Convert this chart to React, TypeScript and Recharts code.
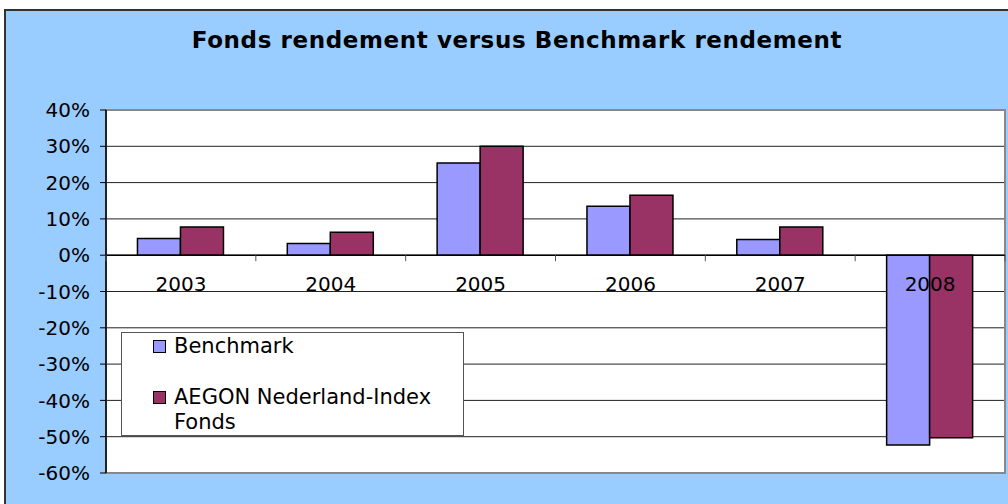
import React from "react";
import {
  BarChart,
  Bar,
  XAxis,
  YAxis,
  CartesianGrid,
  ReferenceLine,
  ReferenceArea,
  Legend,
} from "recharts";

const YEARS = ["2003", "2004", "2005", "2006", "2007", "2008"];
const BENCHMARK = [0.046, 0.032, 0.254, 0.135, 0.043, -0.523];
const FONDS = [0.078, 0.063, 0.3, 0.165, 0.078, -0.503];
const Y_TICKS = [0.4, 0.3, 0.2, 0.1, 0, -0.1, -0.2, -0.3, -0.4, -0.5, -0.6];

const SERIES = [
  { key: "Benchmark", color: "#9999FF" },
  { key: "AEGON Nederland-Index Fonds", color: "#993366" },
];

const data = YEARS.map((year, i) => ({
  year,
  Benchmark: BENCHMARK[i],
  "AEGON Nederland-Index Fonds": FONDS[i],
}));

const FONT = "'DejaVu Sans', Verdana, sans-serif";
const PLOT_LEFT = 106;
const PLOT_RIGHT = 1005;
const PLOT_TOP = 110;
const PLOT_BOTTOM = 473;
const ZERO_Y = PLOT_TOP + (PLOT_BOTTOM - PLOT_TOP) * 0.4;
const BAND = (PLOT_RIGHT - PLOT_LEFT) / YEARS.length;

// category labels sit on the zero line, not at the bottom of the plot
const YearTick = (props: any) => {
  const { x, payload, index } = props;
  const left = x - BAND / 2;
  return (
    <g>
      <line x1={left} x2={left} y1={ZERO_Y} y2={ZERO_Y + 6} stroke="#555" />
      {index === YEARS.length - 1 && (
        <line x1={left + BAND} x2={left + BAND} y1={ZERO_Y} y2={ZERO_Y + 6} stroke="#555" />
      )}
      <text x={x} y={ZERO_Y + 36} textAnchor="middle" fontFamily={FONT} fontSize={20} fill="#000">
        {payload.value}
      </text>
    </g>
  );
};

const LegendBox = () => (
  <div
    style={{
      position: "relative",
      width: 341,
      height: 102,
      background: "#fff",
      border: "1px solid #555",
      fontFamily: FONT,
      fontSize: 21,
      color: "#000",
    }}
  >
    {SERIES.map((s, i) => (
      <div
        key={s.key}
        style={{ position: "absolute", left: 31, top: i === 0 ? 1 : 52, display: "flex" }}
      >
        <div
          style={{
            width: 11,
            height: 11,
            marginTop: 6,
            marginRight: 8,
            background: s.color,
            border: "1px solid #000",
            flexShrink: 0,
          }}
        />
        <div style={{ width: 280, lineHeight: "25px" }}>{s.key}</div>
      </div>
    ))}
  </div>
);

export default function App() {
  return (
    <div style={{ position: "absolute", left: 0, top: 0, width: 1008, height: 504, overflow: "hidden", background: "#fff" }}>
      <div
        style={{
          position: "absolute",
          left: 4,
          top: 9,
          width: 1020,
          height: 510,
          background: "#99CCFF",
          borderTop: "2px solid #333",
          borderLeft: "2px solid #333",
        }}
      />
      <div
        style={{
          position: "absolute",
          left: 0,
          top: 29,
          width: 1034,
          textAlign: "center",
          fontFamily: FONT,
          fontWeight: "bold",
          fontSize: 23,
          lineHeight: 1,
          letterSpacing: 0.6,
          color: "#000",
        }}
      >
        Fonds rendement versus Benchmark rendement
      </div>
      <div style={{ position: "absolute", left: 0, top: 0 }}>
        <BarChart
          width={1008}
          height={504}
          data={data}
          margin={{ top: PLOT_TOP, right: 1008 - PLOT_RIGHT, bottom: 1, left: 10 }}
          barCategoryGap="21%"
          barGap={0}
        >
          <CartesianGrid vertical={false} fill="#fff" stroke="#222" />
          <ReferenceArea y1={-0.6} y2={0.4} fill="none" stroke="#888" strokeWidth={2} />
          <XAxis
            dataKey="year"
            height={504 - PLOT_BOTTOM - 1}
            axisLine={false}
            tickLine={false}
            tick={YearTick}
            interval={0}
          />
          <YAxis
            width={PLOT_LEFT - 10}
            domain={[-0.6, 0.4]}
            ticks={Y_TICKS}
            interval={0}
            tickFormatter={(v: number) => `${Math.round(v * 100)}%`}
            tick={{ fontFamily: FONT, fontSize: 20, fill: "#000" }}
            tickLine={{ stroke: "#000" }}
            tickSize={6}
            tickMargin={10}
            axisLine={{ stroke: "#000", strokeWidth: 1.5 }}
          />
          <ReferenceLine y={0} stroke="#000" strokeWidth={1.5} />
          {SERIES.map((s) => (
            <Bar
              key={s.key}
              dataKey={s.key}
              fill={s.color}
              stroke="#000"
              strokeWidth={1.5}
              isAnimationActive={false}
            />
          ))}
          <Legend
            layout="horizontal"
            verticalAlign="middle"
            align="center"
            content={<LegendBox />}
            wrapperStyle={{ left: 121, top: 332, width: 343, height: 104 }}
          />
        </BarChart>
      </div>
    </div>
  );
}
